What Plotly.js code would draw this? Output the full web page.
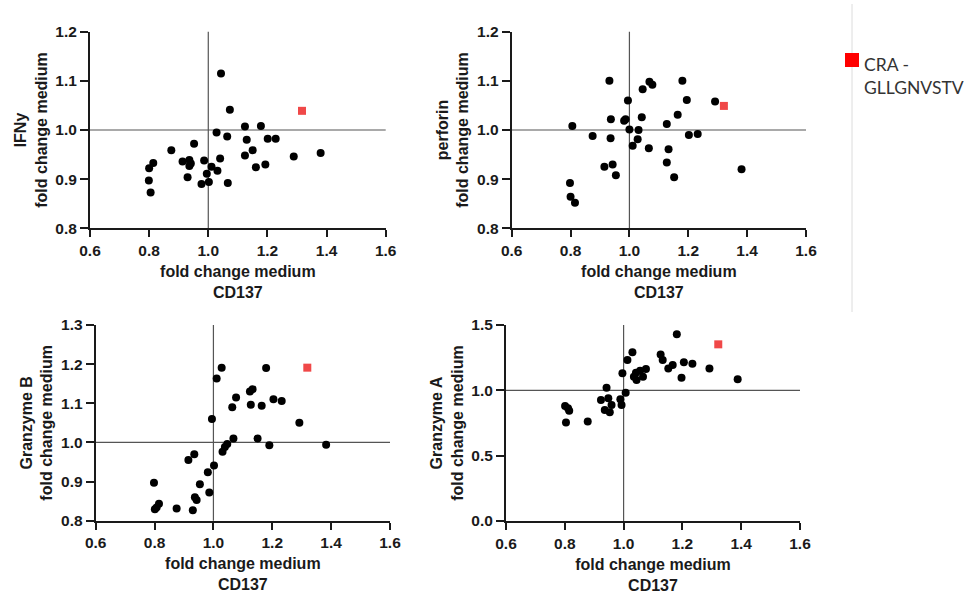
<!DOCTYPE html>
<html>
<head>
<meta charset="utf-8">
<script src="https://cdn.plot.ly/plotly-3.0.1.min.js"></script>
<style>
  html, body { margin: 0; padding: 0; background: #ffffff; }
  #chart { width: 966px; height: 598px; }
</style>
</head>
<body>
<div id="chart"></div>
<script>
// ---- data ----
const panelNames = ["IFNy", "perforin", "Granzyme B", "Granzyme A"];
const xTitle = "fold change medium<br>CD137";
const highlightName = "CRA -<br>GLLGNVSTV";
const refValue = 1.0;

const ifnyX = [1.043, 1.073, 1.124, 1.178, 1.130, 1.201, 1.228, 1.028, 1.064, 0.952, 0.875, 1.150, 1.124, 1.040, 0.913, 0.936, 0.941, 0.936, 0.986, 1.011, 1.031, 0.995, 1.002, 0.977, 1.066, 0.930, 0.814, 0.800, 0.799, 0.805, 1.161, 1.193, 1.289, 1.380];
const ifnyY = [1.115, 1.041, 1.007, 1.008, 0.980, 0.982, 0.982, 0.995, 0.987, 0.972, 0.959, 0.959, 0.948, 0.942, 0.936, 0.939, 0.932, 0.927, 0.938, 0.925, 0.917, 0.911, 0.894, 0.890, 0.892, 0.904, 0.933, 0.922, 0.897, 0.873, 0.924, 0.930, 0.946, 0.953];
const ifnyCRA = [1.317, 1.039];

const perfX = [0.932, 1.068, 1.078, 1.045, 1.180, 1.195, 1.291, 0.995, 0.937, 0.982, 0.987, 1.042, 1.164, 0.806, 1.000, 1.031, 0.875, 0.936, 1.028, 1.011, 1.066, 1.127, 1.133, 1.202, 1.232, 1.127, 1.152, 0.915, 0.943, 0.954, 0.798, 0.800, 0.815, 1.381];
const perfY = [1.100, 1.098, 1.092, 1.083, 1.100, 1.061, 1.058, 1.060, 1.022, 1.019, 1.022, 1.026, 1.031, 1.008, 1.001, 1.000, 0.988, 0.983, 0.981, 0.968, 0.963, 1.012, 0.961, 0.990, 0.992, 0.934, 0.904, 0.925, 0.930, 0.908, 0.892, 0.864, 0.852, 0.920];
const perfCRA = [1.321, 1.049];

const gzbX = [1.028, 1.011, 1.179, 1.124, 1.133, 1.077, 1.064, 1.127, 1.164, 1.204, 1.232, 0.995, 1.292, 1.068, 1.150, 1.190, 1.383, 1.047, 1.039, 1.031, 0.935, 0.915, 1.002, 0.981, 0.954, 0.986, 0.937, 0.943, 0.930, 0.798, 0.807, 0.815, 0.801, 0.875];
const gzbY = [1.191, 1.163, 1.190, 1.130, 1.136, 1.115, 1.090, 1.096, 1.094, 1.110, 1.106, 1.060, 1.050, 1.010, 1.010, 0.993, 0.994, 0.996, 0.988, 0.976, 0.970, 0.955, 0.941, 0.924, 0.893, 0.872, 0.860, 0.853, 0.827, 0.897, 0.834, 0.843, 0.829, 0.831];
const gzbCRA = [1.319, 1.191];

const gzaX = [1.181, 1.030, 1.013, 1.126, 1.133, 0.996, 1.042, 1.056, 1.076, 1.035, 1.044, 1.066, 1.152, 1.167, 1.205, 1.234, 1.292, 1.197, 1.388, 0.942, 1.007, 0.923, 0.948, 0.959, 0.989, 0.993, 0.936, 0.953, 0.801, 0.811, 0.815, 0.804, 0.878];
const gzaY = [1.429, 1.291, 1.232, 1.275, 1.232, 1.130, 1.134, 1.150, 1.163, 1.104, 1.079, 1.104, 1.168, 1.194, 1.214, 1.204, 1.168, 1.097, 1.084, 1.020, 0.982, 0.926, 0.939, 0.888, 0.932, 0.888, 0.850, 0.832, 0.880, 0.862, 0.844, 0.753, 0.761];
const gzaCRA = [1.322, 1.352];

const xTickVals = [0.6, 0.8, 1.0, 1.2, 1.4, 1.6];
const yTicks12 = [0.8, 0.9, 1.0, 1.1, 1.2];
const yTicks13 = [0.8, 0.9, 1.0, 1.1, 1.2, 1.3];
const yTicks15 = [0.0, 0.5, 1.0, 1.5];

// ---- build ----
const W = 966, H = 598;
const panels = [
  {name: panelNames[0], x: ifnyX, y: ifnyY, cra: ifnyCRA, yr: [0.8, 1.2], yt: yTicks12, px: [90, 385.7], py: [31.7, 228.3]},
  {name: panelNames[1], x: perfX, y: perfY, cra: perfCRA, yr: [0.8, 1.2], yt: yTicks12, px: [511.7, 806], py: [31.7, 228.3]},
  {name: panelNames[2], x: gzbX, y: gzbY, cra: gzbCRA, yr: [0.8, 1.3], yt: yTicks13, px: [95.7, 390], py: [325, 520.7]},
  {name: panelNames[3], x: gzaX, y: gzaY, cra: gzaCRA, yr: [0.0, 1.5], yt: yTicks15, px: [506, 800], py: [325, 521]}
];

const bold = v => "<b>" + v.toFixed(1) + "</b>";
const tickFont = {family: "Liberation Sans, Arial, sans-serif", size: 15.5, color: "#1a1a1a", weight: "bold"};
const titleFont = {family: "Liberation Sans, Arial, sans-serif", size: 16, color: "#1a1a1a", weight: "bold"};

const data = [];
const shapes = [];
const annotations = [];
const layout = {
  width: W, height: H,
  margin: {l: 0, r: 0, t: 0, b: 0, pad: 0},
  paper_bgcolor: "#ffffff",
  plot_bgcolor: "rgba(0,0,0,0)",
  showlegend: false,
  shapes: shapes,
  annotations: annotations
};

// faint separator line of the source figure (drawn first, under the key)
shapes.push({type: "line", xref: "paper", yref: "paper", x0: 852 / W, x1: 852 / W, y0: 1 - 4 / H, y1: 1 - 312 / H,
  line: {color: "#dcdcdc", width: 1}});

panels.forEach((p, i) => {
  const n = i === 0 ? "" : String(i + 1);
  const xa = "x" + n, ya = "y" + n;
  data.push({
    type: "scatter", mode: "markers", x: p.x, y: p.y,
    xaxis: xa, yaxis: ya, showlegend: false, cliponaxis: false,
    marker: {color: "#000000", size: 8, symbol: "circle"},
    hoverinfo: "x+y"
  });
  data.push({
    type: "scatter", mode: "markers", x: [p.cra[0]], y: [p.cra[1]],
    xaxis: xa, yaxis: ya, showlegend: false, cliponaxis: false,
    name: highlightName,
    marker: {color: "#f04848", size: 8, symbol: "square"}
  });
  layout["xaxis" + n] = {
    domain: [p.px[0] / W, p.px[1] / W], anchor: ya,
    range: [0.6, 1.6], tickvals: xTickVals, ticktext: xTickVals.map(bold),
    showgrid: false, zeroline: false, showline: true, linecolor: "#1a1a1a", linewidth: 2,
    ticks: "outside", ticklen: 7, tickwidth: 2, tickcolor: "#1a1a1a",
    tickfont: tickFont, fixedrange: true, automargin: false,
    title: {text: xTitle, font: titleFont, standoff: 8}
  };
  layout["yaxis" + n] = {
    domain: [1 - p.py[1] / H, 1 - p.py[0] / H], anchor: xa,
    range: p.yr, tickvals: p.yt, ticktext: p.yt.map(bold),
    showgrid: false, zeroline: false, showline: true, linecolor: "#1a1a1a", linewidth: 2,
    ticks: "outside", ticklen: 8, tickwidth: 2, tickcolor: "#1a1a1a",
    tickfont: tickFont, fixedrange: true, automargin: false,
    title: {text: p.name + "<br>fold change medium", font: titleFont, standoff: 4}
  };
  shapes.push({type: "line", xref: xa, yref: ya + " domain", x0: refValue, x1: refValue, y0: 0, y1: 1,
    line: {color: "#555555", width: 1.2}, layer: "below"});
  shapes.push({type: "line", xref: xa + " domain", yref: ya, x0: 0, x1: 1, y0: refValue, y1: refValue,
    line: {color: "#555555", width: 1.2}, layer: "below"});
});

// key for the highlighted sample (red square + label)
shapes.push({type: "rect", xref: "paper", yref: "paper",
  x0: 845 / W, x1: 859 / W, y0: 1 - 67 / H, y1: 1 - 53 / H,
  fillcolor: "#ff0000", line: {width: 0}});
annotations.push({xref: "paper", yref: "paper", x: 862 / W, y: 1 - 76 / H,
  xanchor: "left", yanchor: "middle", align: "left", showarrow: false,
  text: highlightName,
  font: {family: "Lato, Open Sans, sans-serif", size: 17.5, color: "#333333"}});

Plotly.newPlot("chart", data, layout, {staticPlot: true, displayModeBar: false});
</script>
</body>
</html>
